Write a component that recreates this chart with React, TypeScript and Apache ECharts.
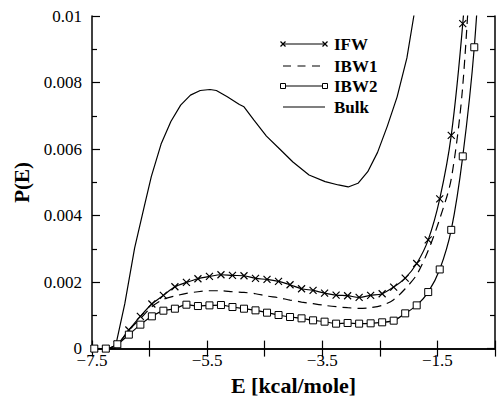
import React, { useEffect, useRef } from "react";
import * as echarts from "echarts";

// Energy grid of the marker series (kcal/mole)
const E_GRID = [
  -7.46, -7.26, -7.06, -6.86, -6.66, -6.46, -6.26, -6.06, -5.86, -5.66,
  -5.46, -5.26, -5.06, -4.86, -4.66, -4.46, -4.26, -4.06, -3.86, -3.66,
  -3.46, -3.26, -3.06, -2.86, -2.66, -2.46, -2.26, -2.06, -1.86, -1.66,
  -1.46, -1.26, -1.06, -0.86, -0.66,
];

// P(E) values in units of 1e-3
const IFW = [
  0, 0, 0.13, 0.56, 0.97, 1.34, 1.6, 1.86, 1.99, 2.1,
  2.17, 2.22, 2.2, 2.19, 2.11, 2.08, 2.02, 1.92, 1.8, 1.75,
  1.67, 1.61, 1.59, 1.54, 1.6, 1.65, 1.85, 2.12, 2.56, 3.27,
  4.5, 6.41, 9.77, 14.5,
];
const IBW1 = [
  0, 0, 0.13, 0.55, 0.9, 1.26, 1.48, 1.58, 1.66, 1.71,
  1.74, 1.74, 1.71, 1.69, 1.65, 1.58, 1.53, 1.46, 1.4, 1.35,
  1.3, 1.26, 1.23, 1.21, 1.23, 1.3, 1.47, 1.8, 2.22, 2.95,
  3.9, 5.1, 7.9, 13.5,
];
const IBW2 = [
  0, 0, 0.13, 0.42, 0.72, 0.97, 1.14, 1.2, 1.32, 1.28,
  1.3, 1.31, 1.25, 1.2, 1.15, 1.08, 1.01, 0.95, 0.91, 0.85,
  0.81, 0.75, 0.77, 0.75, 0.76, 0.79, 0.84, 1.06, 1.3, 1.7,
  2.38, 3.57, 5.78, 9.06, 14.5,
];
const BULK_E = [
  -7.5, -7.1, -6.93, -6.76, -6.59, -6.47, -6.3, -6.13, -5.96, -5.79,
  -5.62, -5.45, -5.34, -5.15, -4.94, -4.86, -4.69, -4.47, -4.24, -4.01,
  -3.73, -3.45, -3.22, -3.05, -2.88, -2.71, -2.54, -2.37, -2.2, -2.03,
  -1.91, -1.8,
];
const BULK = [
  0, 0, 1.35, 3.02, 4.29, 5.17, 6.15, 6.83, 7.32, 7.62,
  7.76, 7.79, 7.76, 7.57, 7.34, 7.27, 6.88, 6.39, 6.0, 5.61,
  5.22, 5.02, 4.92, 4.86, 4.97, 5.32, 5.9, 6.69, 7.57, 8.74,
  10.0, 11.5,
];

const X_LABELED = [-7.5, -5.5, -3.5, -1.5];
const SERIES_NAMES = ["IFW", "IBW1", "IBW2", "Bulk"];

const FONT = "Liberation Serif";
const CROSS = "path://M0,0L10,10M10,0L0,10";

const pairs = (xs: number[], ys: number[]) =>
  ys.map((y, i) => [xs[i], y * 1e-3]);

const fmtX = (v: number) => {
  const hit = X_LABELED.some((t) => Math.abs(t - v) < 1e-6);
  if (!hit) return "";
  return v < 0 ? "\u2212" + Math.abs(v) : String(v);
};
const fmtY = (v: number) => {
  if (Math.abs(v) < 1e-12) return "0";
  return String(parseFloat(v.toFixed(4)));
};

export default function App() {
  const ref = useRef<HTMLDivElement>(null);

  useEffect(() => {
    if (!ref.current) return;
    const chart = echarts.init(ref.current, undefined, { renderer: "svg" });

    const axisLine = { show: true, lineStyle: { color: "#000", width: 1.5 } };
    const tick = { show: true, inside: true, length: 8, lineStyle: { color: "#000", width: 1.2 } };
    const minorTickY = { show: true, splitNumber: 2, length: 5, lineStyle: { color: "#000", width: 1.2 } };

    const lx = 283;
    const rx = 325;
    const rows = [44, 66, 86, 107];
    const tx = 334;
    const graphic: any[] = [];
    // IFW
    graphic.push({ type: "line", shape: { x1: lx, y1: rows[0], x2: rx, y2: rows[0] }, style: { stroke: "#000", lineWidth: 1.2 } });
    [lx, rx].forEach((cx) => {
      graphic.push({ type: "line", shape: { x1: cx - 2.5, y1: rows[0] - 2.5, x2: cx + 2.5, y2: rows[0] + 2.5 }, style: { stroke: "#000", lineWidth: 1.2 } });
      graphic.push({ type: "line", shape: { x1: cx - 2.5, y1: rows[0] + 2.5, x2: cx + 2.5, y2: rows[0] - 2.5 }, style: { stroke: "#000", lineWidth: 1.2 } });
    });
    // IBW1
    graphic.push({ type: "line", shape: { x1: lx, y1: rows[1], x2: rx, y2: rows[1] }, style: { stroke: "#000", lineWidth: 1.2, lineDash: [8, 6.5] } });
    // IBW2
    graphic.push({ type: "line", shape: { x1: lx, y1: rows[2], x2: rx, y2: rows[2] }, style: { stroke: "#000", lineWidth: 1.2 } });
    [lx, rx].forEach((cx) => {
      graphic.push({ type: "rect", shape: { x: cx - 2.5, y: rows[2] - 2.5, width: 5, height: 5 }, style: { fill: "#fff", stroke: "#000", lineWidth: 1 } });
    });
    // Bulk
    graphic.push({ type: "line", shape: { x1: lx, y1: rows[3], x2: rx, y2: rows[3] }, style: { stroke: "#000", lineWidth: 1.2 } });
    SERIES_NAMES.forEach((n, i) => {
      graphic.push({
        type: "text",
        x: tx,
        y: rows[i],
        style: { text: n, fontFamily: FONT, fontWeight: "bold", fontSize: 17, fill: "#000", align: "left", verticalAlign: "middle" },
      });
    });

    const xBase = { type: "value", min: -7.5, max: -0.5, interval: 1, splitLine: { show: false }, axisLine, axisTick: tick };
    const yBase = { type: "value", min: 0, max: 0.01, interval: 0.002, splitLine: { show: false }, axisLine, axisTick: tick, minorTick: minorTickY };

    chart.setOption({
      animation: false,
      backgroundColor: "#fff",
      textStyle: { fontFamily: FONT },
      grid: { left: 92, top: 16, width: 411, height: 340 },
      xAxis: [
        {
          ...xBase,
          position: "bottom",
          name: "E [kcal/mole]",
          nameLocation: "middle",
          nameGap: 15,
          nameTextStyle: { fontFamily: FONT, fontWeight: "bold", fontSize: 22, color: "#000" },
          axisLabel: { fontFamily: FONT, fontSize: 17, lineHeight: 12, color: "#000", margin: 6, formatter: fmtX, showMaxLabel: true, showMinLabel: true },
        },
        { ...xBase, position: "top", axisLabel: { show: false } },
      ],
      yAxis: [
        {
          ...yBase,
          position: "left",
          name: "P(E)",
          nameLocation: "middle",
          nameGap: 60,
          nameTextStyle: { fontFamily: FONT, fontWeight: "bold", fontSize: 21, color: "#000" },
          axisLabel: { fontFamily: FONT, fontSize: 17, lineHeight: 12, color: "#000", margin: 10, formatter: fmtY },
        },
        { ...yBase, position: "right", axisLabel: { show: false } },
      ],
      graphic,
      series: [
        {
          name: "IFW",
          type: "line",
          data: pairs(E_GRID, IFW),
          smooth: 0.3,
          showAllSymbol: true,
          symbol: CROSS,
          symbolSize: 7,
          itemStyle: { color: "#000", borderColor: "#000", borderWidth: 1.2 },
          lineStyle: { color: "#000", width: 1.2 },
          clip: true,
          z: 3,
        },
        {
          name: "IBW1",
          type: "line",
          data: pairs(E_GRID, IBW1),
          smooth: 0.3,
          showSymbol: false,
          symbol: "none",
          lineStyle: { color: "#000", width: 1.2, type: [9, 6] },
          clip: true,
        },
        {
          name: "IBW2",
          type: "line",
          data: pairs(E_GRID, IBW2),
          smooth: 0.3,
          showAllSymbol: true,
          symbol: "rect",
          symbolSize: 7,
          itemStyle: { color: "#fff", borderColor: "#000", borderWidth: 1 },
          lineStyle: { color: "#000", width: 1.2 },
          clip: true,
          z: 3,
        },
        {
          name: "Bulk",
          type: "line",
          data: pairs(BULK_E, BULK),
          showSymbol: false,
          symbol: "none",
          lineStyle: { color: "#000", width: 1.2 },
          clip: true,
        },
      ],
    });

    return () => chart.dispose();
  }, []);

  return (
    <div
      ref={ref}
      style={{ position: "fixed", left: 0, top: 0, width: 498, height: 401, background: "#fff" }}
    />
  );
}
